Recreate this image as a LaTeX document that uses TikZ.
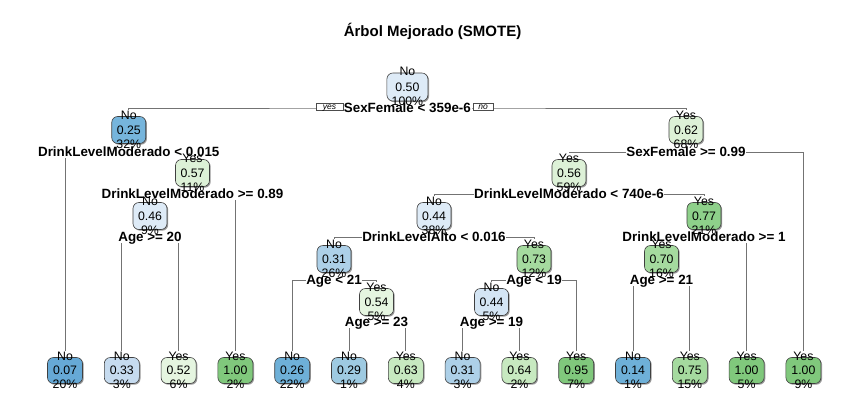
\documentclass[tikz,border=0pt]{standalone}
\usepackage{fontspec}
\setmainfont{Liberation Sans}
\usetikzlibrary{backgrounds,shadows}
\definecolor{cB0}{HTML}{66A9D6}
\definecolor{cB1}{HTML}{6EB0D8}
\definecolor{cB2}{HTML}{76B5DC}
\definecolor{cB3}{HTML}{9ECAE1}
\definecolor{cB4}{HTML}{ADD0E8}
\definecolor{cB5}{HTML}{C6DBEF}
\definecolor{cB6}{HTML}{D4E5F4}
\definecolor{cB7}{HTML}{DEEBF7}
\definecolor{cG0}{HTML}{E5F5E0}
\definecolor{cG1}{HTML}{DDF1D7}
\definecolor{cG2}{HTML}{C7E9C0}
\definecolor{cG3}{HTML}{A5DA9F}
\definecolor{cG4}{HTML}{8ED08A}
\definecolor{cG5}{HTML}{80C87C}
\tikzset{
  nbox/.style={draw=black!75, line width=0.6pt, rounded corners=6pt,
    minimum width=34pt, minimum height=27pt, inner sep=0pt,
    font=\fontsize{12.3}{13}\selectfont,
    drop shadow={shadow xshift=1.2pt, shadow yshift=-1.2pt, fill=black!40, opacity=1}},
  leafbox/.style={minimum width=35pt, minimum height=26pt},
  rootbox/.style={minimum width=41pt, minimum height=28pt},
  ntext/.style={inner sep=0pt, text height=8.8pt, text depth=2.4pt,
    font=\fontsize{12.3}{13}\selectfont},
  splitlab/.style={fill=white, inner sep=0.6pt, text height=9.6pt, text depth=0.5pt,
    font=\bfseries\fontsize{13.4}{14}\selectfont},
  branch/.style={draw=black!55, line width=0.9pt},
  ynbox/.style={draw=black!70, fill=white, line width=0.5pt, inner sep=0pt,
    minimum height=7pt, text height=5pt, text depth=0.5pt,
    font=\itshape\fontsize{8.5}{9}\selectfont},
}
\newcommand\tn[8]{%
  \node[nbox, #8, fill=#7] (#1) at (#2,#3) {#5};
  \node[ntext, yshift=0.2pt] (#1t) at (#1.north) {#4};
  \node[ntext, yshift=-1.2pt] (#1b) at (#1.south) {#6};
}
\begin{document}
\begin{tikzpicture}[x=1pt, y=-1pt]
\useasboundingbox (0,0) rectangle (867,410);
% title
\node[font=\bfseries\fontsize{15}{16}\selectfont] (title) at (432.5,31) {Árbol Mejorado (SMOTE)};
% split labels
\node[splitlab] (s0) at (407.4,108) {SexFemale < 359e-6};
\node[splitlab] (s2) at (128.75,152) {DrinkLevelModerado < 0.015};
\node[splitlab] (s3) at (686,152) {SexFemale >= 0.99};
\node[splitlab] (s5) at (192.5,194) {DrinkLevelModerado >= 0.89};
\node[splitlab] (s6) at (569,194) {DrinkLevelModerado < 740e-6};
\node[splitlab] (s10) at (150,237) {Age >= 20};
\node[splitlab] (s12) at (434,237) {DrinkLevelAlto < 0.016};
\node[splitlab] (s13) at (704,237) {DrinkLevelModerado >= 1};
\node[splitlab] (s24) at (334,280) {Age < 21};
\node[splitlab] (s25) at (534,280) {Age < 19};
\node[splitlab] (s26) at (661.5,280) {Age >= 21};
\node[splitlab] (s49) at (376.5,322) {Age >= 23};
\node[splitlab] (s50) at (491.5,322) {Age >= 19};
% yes / no
\node[ynbox, minimum width=27pt] (yes) at (329.5,107) {yes};
\node[ynbox, minimum width=20pt] (no) at (483,107) {no};
% internal nodes
\tn{n1}{407.4}{87}{No}{0.50}{100\%}{cB7}{rootbox}
\tn{n2}{128.75}{130}{No}{0.25}{32\%}{cB2}{}
\tn{n3}{686}{130}{Yes}{0.62}{68\%}{cG1}{}
\tn{n5}{192.5}{173}{Yes}{0.57}{11\%}{cG1}{}
\tn{n6}{569}{173}{Yes}{0.56}{59\%}{cG1}{}
\tn{n10}{150}{216}{No}{0.46}{9\%}{cB7}{}
\tn{n12}{434}{216}{No}{0.44}{38\%}{cB7}{}
\tn{n13}{704}{216}{Yes}{0.77}{21\%}{cG4}{}
\tn{n24}{334}{259}{No}{0.31}{26\%}{cB4}{}
\tn{n25}{534}{259}{Yes}{0.73}{12\%}{cG3}{}
\tn{n26}{661.5}{259}{Yes}{0.70}{16\%}{cG3}{}
\tn{n49}{376.5}{302}{Yes}{0.54}{5\%}{cG0}{}
\tn{n50}{491.5}{302}{No}{0.44}{5\%}{cB6}{}
% leaves
\tn{l1}{65}{370.5}{No}{0.07}{20\%}{cB0}{leafbox}
\tn{l2}{121.8}{370.5}{No}{0.33}{3\%}{cB5}{leafbox}
\tn{l3}{178.6}{370.5}{Yes}{0.52}{6\%}{cG0}{leafbox}
\tn{l4}{235.4}{370.5}{Yes}{1.00}{2\%}{cG5}{leafbox}
\tn{l5}{292.2}{370.5}{No}{0.26}{22\%}{cB1}{leafbox}
\tn{l6}{349}{370.5}{No}{0.29}{1\%}{cB3}{leafbox}
\tn{l7}{405.8}{370.5}{Yes}{0.63}{4\%}{cG2}{leafbox}
\tn{l8}{462.6}{370.5}{No}{0.31}{3\%}{cB4}{leafbox}
\tn{l9}{519.4}{370.5}{Yes}{0.64}{2\%}{cG2}{leafbox}
\tn{l10}{576.2}{370.5}{Yes}{0.95}{7\%}{cG5}{leafbox}
\tn{l11}{633}{370.5}{No}{0.14}{1\%}{cB1}{leafbox}
\tn{l12}{689.8}{370.5}{Yes}{0.75}{15\%}{cG3}{leafbox}
\tn{l13}{746.6}{370.5}{Yes}{1.00}{5\%}{cG5}{leafbox}
\tn{l14}{803.4}{370.5}{Yes}{1.00}{9\%}{cG5}{leafbox}
% branches
\begin{pgfonlayer}{background}
\fill[white] (0,0) rectangle (867,410);
\draw[branch] (n2t.north) |- (s0.center) -| (n3t.north);
\draw[branch] (l1t.north) |- (s2.center) -| (n5t.north);
\draw[branch] (n6t.north) |- (s3.center) -| (l14t.north);
\draw[branch] (n10t.north) |- (s5.center) -| (l4t.north);
\draw[branch] (n12t.north) |- (s6.center) -| (n13t.north);
\draw[branch] (l2t.north) |- (s10.center) -| (l3t.north);
\draw[branch] (n24t.north) |- (s12.center) -| (n25t.north);
\draw[branch] (n26t.north) |- (s13.center) -| (l13t.north);
\draw[branch] (l5t.north) |- (s24.center) -| (n49t.north);
\draw[branch] (n50t.north) |- (s25.center) -| (l10t.north);
\draw[branch] (l11t.north) |- (s26.center) -| (l12t.north);
\draw[branch] (l6t.north) |- (s49.center) -| (l7t.north);
\draw[branch] (l8t.north) |- (s50.center) -| (l9t.north);
\end{pgfonlayer}
\end{tikzpicture}
\end{document}
